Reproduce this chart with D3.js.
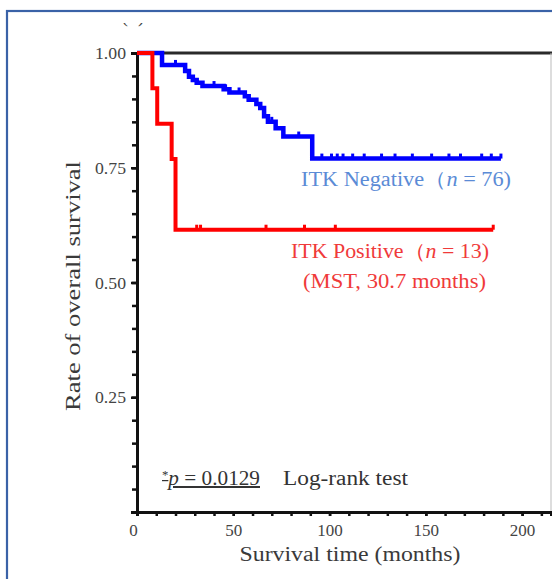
<!DOCTYPE html>
<html><head><meta charset="utf-8">
<script src="https://cdn.jsdelivr.net/npm/d3@7"></script>
<style>body{margin:0;background:#fff;}svg{display:block;}</style>
</head><body>
<svg id="c" width="552" height="579"></svg>
<script>
// ---- data ----
const posTimes = [0, 8, 10.5, 18, 20];
const posSurv  = [1, 0.923, 0.846, 0.769, 0.615];
const posEnd = 185;
const posCensor = [31, 33, 67, 87, 103, 185];

const negTimes = [0, 13, 25, 27, 29, 31, 34, 45, 48, 56, 58, 62, 64, 66, 68, 72, 76, 91];
const negSurv  = [1, 0.974, 0.961, 0.948, 0.941, 0.935, 0.928, 0.921, 0.914, 0.906, 0.898, 0.889, 0.880, 0.862, 0.850, 0.836, 0.818, 0.770];
const negEnd = 189;
const negCensor = [20, 40, 46, 53, 70, 84, 96, 101, 104, 107, 112, 118, 127, 134, 143, 153, 162, 168, 179, 184, 189];

const yMajor = [0.25, 0.5, 0.75, 1.0];
const xMajor = [0, 50, 100, 150, 200];

// ---- drawing ----
const svg = d3.select("#c");
const x = d3.scaleLinear().domain([0, 215]).range([137, 551]);
const y = d3.scaleLinear().domain([0, 1]).range([512, 53]);
const serif = "'Liberation Serif','DejaVu Serif',serif";

// outer blue frame
svg.append("rect").attr("x", 7).attr("y", 11).attr("width", 700).attr("height", 700)
  .attr("fill", "none").attr("stroke", "#3a62a7").attr("stroke-width", 2.2);

// clipped panel letter fragment
svg.append("clipPath").attr("id", "frag").append("rect").attr("x", 0).attr("y", 23).attr("width", 552).attr("height", 10);
svg.append("text").attr("x", 133).attr("y", 22).attr("text-anchor", "middle")
  .attr("font-family", serif).attr("font-size", 20).attr("fill", "#444")
  .attr("clip-path", "url(#frag)").text("(b)");

// top and right frame
svg.append("line").attr("x1", x(0)).attr("x2", 552).attr("y1", y(1)).attr("y2", y(1))
  .attr("stroke", "#2a2a2a").attr("stroke-width", 3);
svg.append("line").attr("x1", 551).attr("x2", 551).attr("y1", y(1)).attr("y2", y(0))
  .attr("stroke", "#bbb").attr("stroke-width", 1);

// y axis
const yAxisMinor = d3.axisLeft(y).tickValues(d3.range(0.05, 1.0, 0.05)).tickSize(5).tickFormat("");
const gyMin = svg.append("g").attr("transform", `translate(${x(0)},0)`).call(yAxisMinor);
gyMin.select(".domain").remove();
gyMin.selectAll("line").attr("stroke", "#111").attr("stroke-width", 2.5);

const yAxis = d3.axisLeft(y).tickValues(yMajor).tickSize(6).tickPadding(5).tickFormat(d3.format(".2f"));
const gy = svg.append("g").attr("transform", `translate(${x(0)},0)`).call(yAxis);
gy.select(".domain").attr("stroke", "#111").attr("stroke-width", 3);
gy.selectAll("line").attr("stroke", "#111").attr("stroke-width", 2.5);
gy.selectAll("text").attr("font-family", serif).attr("font-size", 16).attr("fill", "#444")
  .attr("textLength", 31).attr("lengthAdjust", "spacingAndGlyphs").attr("dy", "0.35em");

// x axis
const xAxisMinor = d3.axisBottom(x).tickValues(d3.range(10, 215, 10)).tickSize(4).tickFormat("");
const gxMin = svg.append("g").attr("transform", `translate(0,${y(0)})`).call(xAxisMinor);
gxMin.select(".domain").remove();
gxMin.selectAll("line").attr("stroke", "#111").attr("stroke-width", 2.5);

const xAxis = d3.axisBottom(x).tickValues(xMajor).tickSize(4).tickPadding(8).tickFormat(d3.format("d"));
const gx = svg.append("g").attr("transform", `translate(0,${y(0)})`).call(xAxis);
gx.select(".domain").attr("stroke", "#111").attr("stroke-width", 3);
gx.selectAll("line").attr("stroke", "#111").attr("stroke-width", 2.5);
gx.selectAll("text").attr("font-family", serif).attr("font-size", 17).attr("fill", "#444")
  .attr("dx", d => d === 0 ? -4 : 0);

// axis titles
svg.append("text").attr("transform", "translate(80,286) rotate(-90)").attr("text-anchor", "middle")
  .attr("font-family", serif).attr("font-size", 20).attr("fill", "#3a3a3a")
  .attr("textLength", 250).attr("lengthAdjust", "spacingAndGlyphs")
  .text("Rate of overall survival");
svg.append("text").attr("x", 350).attr("y", 561).attr("text-anchor", "middle")
  .attr("font-family", serif).attr("font-size", 20).attr("fill", "#3a3a3a")
  .attr("textLength", 221).attr("lengthAdjust", "spacingAndGlyphs")
  .text("Survival time (months)");

// curves
function stepData(times, surv, end) {
  const d = times.map((t, i) => [t, surv[i]]);
  d.push([end, surv[surv.length - 1]]);
  return d;
}
function survAt(times, surv, t) {
  let s = 1;
  for (let i = 0; i < times.length; i++) if (times[i] <= t) s = surv[i];
  return s;
}
const line = d3.line().x(d => x(d[0])).y(d => y(d[1])).curve(d3.curveStepAfter);

function drawCurve(times, surv, end, censor, color, w) {
  svg.append("path").datum(stepData(times, surv, end)).attr("d", line)
    .attr("fill", "none").attr("stroke", color).attr("stroke-width", w).attr("stroke-linejoin", "miter");
  svg.append("g").selectAll("line").data(censor).join("line")
    .attr("x1", d => x(d)).attr("x2", d => x(d))
    .attr("y1", d => y(survAt(times, surv, d)) - 5)
    .attr("y2", d => y(survAt(times, surv, d)))
    .attr("stroke", color).attr("stroke-width", 3);
}
drawCurve(negTimes, negSurv, negEnd, negCensor, "#0000ff", 4.5);
drawCurve(posTimes, posSurv, posEnd, posCensor, "#ff0000", 4);

// labels
const negLab = svg.append("text").attr("x", 301).attr("y", 186)
  .attr("font-family", serif).attr("font-size", 20).attr("fill", "#5b8bd6")
  .attr("textLength", 210).attr("lengthAdjust", "spacingAndGlyphs");
negLab.append("tspan").text("ITK Negative（");
negLab.append("tspan").attr("font-style", "italic").text("n");
negLab.append("tspan").text(" = 76)");

const posLab = svg.append("text").attr("x", 291).attr("y", 258)
  .attr("font-family", serif).attr("font-size", 20).attr("fill", "#f03a3a")
  .attr("textLength", 198).attr("lengthAdjust", "spacingAndGlyphs");
posLab.append("tspan").text("ITK Positive（");
posLab.append("tspan").attr("font-style", "italic").text("n");
posLab.append("tspan").text(" = 13)");

svg.append("text").attr("x", 303).attr("y", 288)
  .attr("font-family", serif).attr("font-size", 20).attr("fill", "#f03a3a")
  .attr("textLength", 183).attr("lengthAdjust", "spacingAndGlyphs")
  .text("(MST, 30.7 months)");

const pLab = svg.append("text").attr("x", 162).attr("y", 485)
  .attr("font-family", serif).attr("font-size", 20).attr("fill", "#333")
  .attr("text-decoration", "underline")
  .attr("textLength", 98).attr("lengthAdjust", "spacingAndGlyphs");
pLab.append("tspan").attr("font-size", 12).attr("dy", -6).text("*");
pLab.append("tspan").attr("font-style", "italic").attr("dy", 6).text("p");
pLab.append("tspan").text(" = 0.0129");

svg.append("text").attr("x", 283).attr("y", 485)
  .attr("font-family", serif).attr("font-size", 20).attr("fill", "#333")
  .attr("textLength", 125).attr("lengthAdjust", "spacingAndGlyphs")
  .text("Log-rank test");
</script>
</body></html>
